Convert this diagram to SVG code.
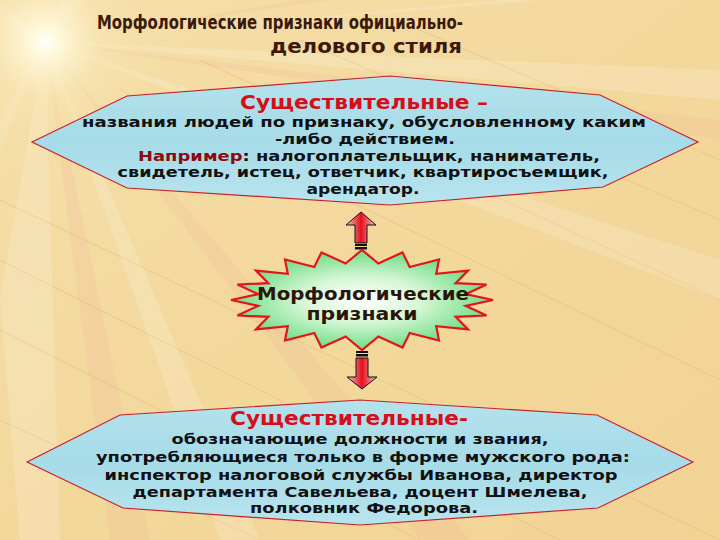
<svg xmlns="http://www.w3.org/2000/svg" width="720" height="540" viewBox="0 0 720 540">
<defs>
<linearGradient id="bg" x1="0" y1="0" x2="1" y2="1">
<stop offset="0" stop-color="#f5dfaa"/>
<stop offset="0.5" stop-color="#f3d89c"/>
<stop offset="1" stop-color="#f1d394"/>
</linearGradient>
<radialGradient id="sun" cx="45" cy="42" r="120" gradientUnits="userSpaceOnUse">
<stop offset="0" stop-color="#ffffff" stop-opacity="1"/>
<stop offset="0.12" stop-color="#fffbe0" stop-opacity="0.9"/>
<stop offset="0.5" stop-color="#fbe8b8" stop-opacity="0.4"/>
<stop offset="1" stop-color="#f6e0a8" stop-opacity="0"/>
</radialGradient>
<linearGradient id="blue" x1="0" y1="0" x2="0" y2="1">
<stop offset="0" stop-color="#b4e2ec"/>
<stop offset="0.5" stop-color="#a6dbe8"/>
<stop offset="1" stop-color="#b8e4ee"/>
</linearGradient>
<radialGradient id="green" cx="0.5" cy="0.5" r="0.5">
<stop offset="0" stop-color="#ffffff"/>
<stop offset="0.45" stop-color="#d6f7d6"/>
<stop offset="1" stop-color="#6edc84"/>
</radialGradient>
<linearGradient id="arr" x1="0" y1="0" x2="1" y2="0">
<stop offset="0" stop-color="#fbc4c4"/>
<stop offset="0.5" stop-color="#e3101c"/>
<stop offset="1" stop-color="#fbc4c4"/>
</linearGradient>
<style>
.hex{fill:url(#blue);stroke:#c8202a;stroke-width:1.2}
.star{fill:url(#green);stroke:#e2141c;stroke-width:2.2}
.arrow{fill:url(#arr);stroke:#111;stroke-width:1}
.t{font-family:"DejaVu Sans",Verdana,sans-serif;font-weight:bold;text-anchor:middle}
.tc{font-family:"DejaVu Sans Condensed","DejaVu Sans",sans-serif;font-weight:bold;text-anchor:middle}
.title{font-size:19px;fill:#3b1a0c}
.head{font-size:19px;fill:#d40e1a}
.body{font-size:14.5px;fill:#111}
.ex{fill:#8c0a10}
.mid{font-size:17px;fill:#2a1608}
.ray{fill:#ffffff;opacity:0.16}
.pray{fill:#f0a898;opacity:0.15}
.streak{stroke:#e6c385;stroke-width:1.2;fill:none;opacity:0.6}
</style>
</defs>
<rect width="720" height="540" fill="url(#bg)"/>
<g id="background">
<path class="streak" d="M0,200 L720,540 M0,260 L560,540 M120,90 L720,380 M200,60 L720,300 M0,330 L420,540 M300,40 L720,220 M0,420 L260,540 M420,30 L720,160"/>
<polygon class="ray" points="45,42 720,70 720,100"/>
<polygon class="pray" points="45,42 720,120 720,140"/>
<polygon class="ray" points="45,42 500,0 540,0"/>
<polygon class="pray" points="45,42 300,0 330,0"/>
<polygon class="ray" points="45,42 0,300 20,540 60,540"/>
<polygon class="pray" points="45,42 110,540 150,540"/>
<polygon class="ray" points="45,42 220,540 260,540"/>
<polygon class="pray" points="45,42 420,540 470,540"/>
<polygon class="ray" points="45,42 720,260 720,300"/>
<polygon class="ray" points="45,42 0,120 0,150"/>
<polygon class="ray" points="45,42 60,0 85,0"/>
<polygon class="ray" points="45,42 0,0 0,20"/>
<circle cx="45" cy="42" r="120" fill="url(#sun)"/>
</g>
<g id="title">
<text class="tc title" x="280" y="29" textLength="366" lengthAdjust="spacingAndGlyphs">Морфологические признаки официально-</text>
<text class="tc title" x="366" y="53" textLength="192" lengthAdjust="spacingAndGlyphs">делового стиля</text>
</g>
<g id="connectors">
<polygon class="arrow" points="361,212 376,225 367,225 367,243 355,243 355,225 346,225"/>
<rect x="355" y="244" width="12" height="2" fill="#111"/>
<rect x="355" y="247" width="12" height="2.5" fill="#111"/>
<rect x="356" y="351" width="12" height="2" fill="#111"/>
<rect x="356" y="354" width="12" height="2.5" fill="#111"/>
<polygon class="arrow" points="356,358 368,358 368,377 377,377 362,389 347,377 356,377"/>
</g>
<g id="node-top">
<path class="hex" d="M32,142 L127,96 L390,76 L600,95 L698,142 L603,187 L390,205 L127,188 Z"/>
<text class="t head" x="364" y="109" textLength="248" lengthAdjust="spacingAndGlyphs">Существительные –</text>
<text class="t body" x="364" y="127" textLength="564" lengthAdjust="spacingAndGlyphs">названия людей по признаку, обусловленному каким</text>
<text class="t body" x="365" y="144" textLength="180" lengthAdjust="spacingAndGlyphs">-либо действием.</text>
<text class="t body" x="369" y="161" textLength="462" lengthAdjust="spacingAndGlyphs"><tspan class="ex">Например</tspan>: налогоплательщик, наниматель,</text>
<text class="t body" x="363" y="177" textLength="491" lengthAdjust="spacingAndGlyphs">свидетель, истец, ответчик, квартиросъемщик,</text>
<text class="t body" x="363" y="194" textLength="113" lengthAdjust="spacingAndGlyphs">арендатор.</text>
</g>
<g id="node-center">
<polygon class="star" points="493,300 465.7,294.2 486.6,284.5 455.6,283.2 468,270.6 436.2,273.8 439,259.5 409.7,267 402.5,252.4 378.4,263.5 362,250 345.6,263.5 321.5,252.4 314.3,267 285,259.5 287.8,273.8 256,270.6 268.4,283.2 237.4,284.5 258.3,294.2 231,300 258.3,305.8 237.4,315.5 268.4,316.8 256,329.4 287.8,326.2 285,340.5 314.3,333 321.5,347.6 345.6,336.5 362,350 378.4,336.5 402.5,347.6 409.7,333 439,340.5 436.2,326.2 468,329.4 455.6,316.8 486.6,315.5 465.7,305.8"/>
<text class="t mid" x="363" y="300" textLength="212" lengthAdjust="spacingAndGlyphs">Морфологические</text>
<text class="t mid" x="362" y="320" textLength="111" lengthAdjust="spacingAndGlyphs">признаки</text>
</g>
<g id="node-bottom">
<path class="hex" d="M27,462 L120,415 L360,400 L597,415 L693,462 L598,508 L360,525 L123,508 Z"/>
<text class="t head" x="349" y="425" textLength="238" lengthAdjust="spacingAndGlyphs">Существительные-</text>
<text class="t body" x="360" y="444" textLength="377" lengthAdjust="spacingAndGlyphs">обозначающие должности и звания,</text>
<text class="t body" x="363" y="462" textLength="534" lengthAdjust="spacingAndGlyphs">употребляющиеся только в форме мужского рода:</text>
<text class="t body" x="361" y="480" textLength="513" lengthAdjust="spacingAndGlyphs">инспектор налоговой службы Иванова, директор</text>
<text class="t body" x="360" y="497" textLength="455" lengthAdjust="spacingAndGlyphs">департамента Савельева, доцент Шмелева,</text>
<text class="t body" x="364" y="513" textLength="228" lengthAdjust="spacingAndGlyphs">полковник Федорова.</text>
</g>
</svg>
